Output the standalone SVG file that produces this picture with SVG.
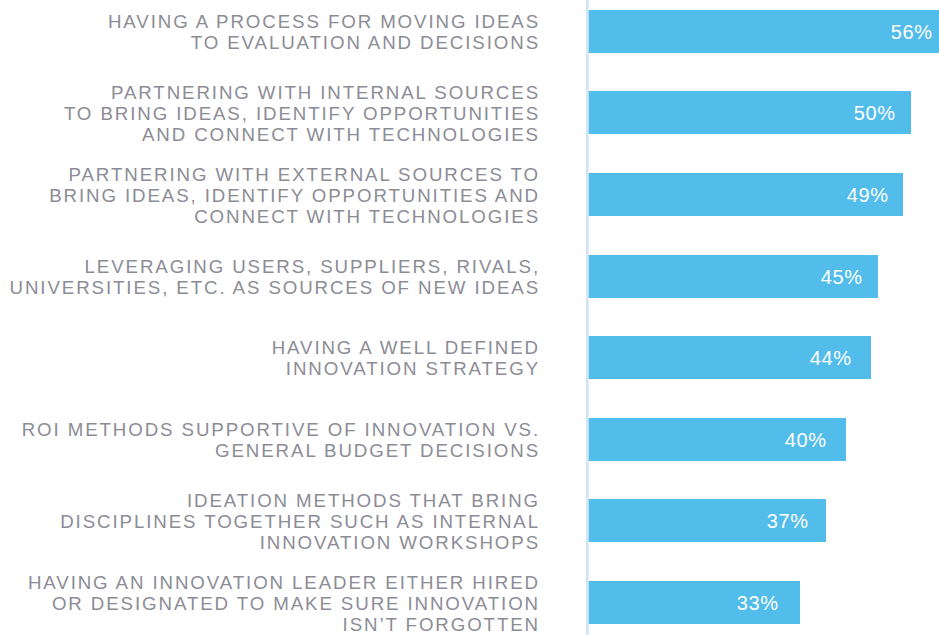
<svg xmlns="http://www.w3.org/2000/svg" width="939" height="635" viewBox="0 0 939 635">
<style>
.lbl{font-family:"Liberation Sans",Arial,sans-serif;font-size:18.7px;letter-spacing:1.9px;fill:#8c8c96;text-anchor:end}
.pct{font-family:"Liberation Sans",Arial,sans-serif;font-size:20px;letter-spacing:0.6px;fill:#ffffff;text-anchor:end}
.bar{fill:#52bcea}
</style>
<rect x="0" y="0" width="939" height="635" fill="#ffffff"/>
<rect id="axis" x="586" y="0" width="2.7" height="635" fill="#d3e5f5"/>
<g id="row1">
<rect class="bar" x="588.7" y="10" width="360" height="43"/>
<text class="pct" x="932.6" y="39">56%</text>
<text class="lbl" x="540" y="28">HAVING A PROCESS FOR MOVING IDEAS</text>
<text class="lbl" x="540" y="49">TO EVALUATION AND DECISIONS</text>
</g>
<g id="row2">
<rect class="bar" x="588.7" y="91" width="322.3" height="43"/>
<text class="pct" x="895.6" y="120">50%</text>
<text class="lbl" x="540" y="99">PARTNERING WITH INTERNAL SOURCES</text>
<text class="lbl" x="540" y="120">TO BRING IDEAS, IDENTIFY OPPORTUNITIES</text>
<text class="lbl" x="540" y="141">AND CONNECT WITH TECHNOLOGIES</text>
</g>
<g id="row3">
<rect class="bar" x="588.7" y="173" width="314.3" height="43"/>
<text class="pct" x="888.6" y="202">49%</text>
<text class="lbl" x="540" y="181">PARTNERING WITH EXTERNAL SOURCES TO</text>
<text class="lbl" x="540" y="202">BRING IDEAS, IDENTIFY OPPORTUNITIES AND</text>
<text class="lbl" x="540" y="223">CONNECT WITH TECHNOLOGIES</text>
</g>
<g id="row4">
<rect class="bar" x="588.7" y="255" width="289.3" height="43"/>
<text class="pct" x="862.6" y="284">45%</text>
<text class="lbl" x="540" y="273">LEVERAGING USERS, SUPPLIERS, RIVALS,</text>
<text class="lbl" x="540" y="294">UNIVERSITIES, ETC. AS SOURCES OF NEW IDEAS</text>
</g>
<g id="row5">
<rect class="bar" x="588.7" y="336" width="282.3" height="43"/>
<text class="pct" x="851.6" y="365">44%</text>
<text class="lbl" x="540" y="354">HAVING A WELL DEFINED</text>
<text class="lbl" x="540" y="375">INNOVATION STRATEGY</text>
</g>
<g id="row6">
<rect class="bar" x="588.7" y="418" width="257.3" height="43"/>
<text class="pct" x="826.6" y="447">40%</text>
<text class="lbl" x="540" y="436">ROI METHODS SUPPORTIVE OF INNOVATION VS.</text>
<text class="lbl" x="540" y="457">GENERAL BUDGET DECISIONS</text>
</g>
<g id="row7">
<rect class="bar" x="588.7" y="499" width="237.3" height="43"/>
<text class="pct" x="808.6" y="528">37%</text>
<text class="lbl" x="540" y="507">IDEATION METHODS THAT BRING</text>
<text class="lbl" x="540" y="528">DISCIPLINES TOGETHER SUCH AS INTERNAL</text>
<text class="lbl" x="540" y="549">INNOVATION WORKSHOPS</text>
</g>
<g id="row8">
<rect class="bar" x="588.7" y="581" width="211.3" height="43"/>
<text class="pct" x="778.6" y="610">33%</text>
<text class="lbl" x="540" y="589">HAVING AN INNOVATION LEADER EITHER HIRED</text>
<text class="lbl" x="540" y="610">OR DESIGNATED TO MAKE SURE INNOVATION</text>
<text class="lbl" x="540" y="631">ISN’T FORGOTTEN</text>
</g>
<g id="connectors"/>
</svg>
